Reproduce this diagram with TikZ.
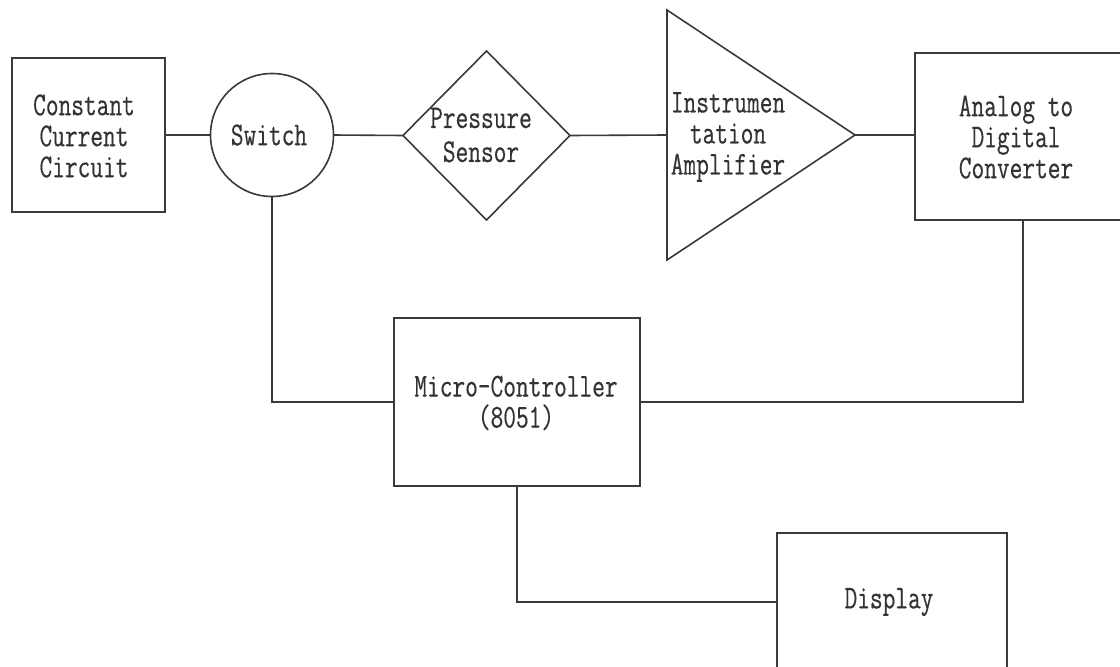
\documentclass[tikz,border=0pt]{standalone}
\usepackage{fontspec}
\newfontfamily\dgfont[FakeStretch=0.74,FakeBold=0.4]{Latin Modern Mono}
\usetikzlibrary{shapes.geometric,calc}
\definecolor{linec}{HTML}{3A3A3A}
\definecolor{textc}{HTML}{333333}
\begin{document}
\begin{tikzpicture}[x=0.75pt,y=-0.75pt,
  box/.style={draw=linec, line width=1.2pt, rectangle, inner sep=0pt, outer sep=0pt},
  lbl/.style={font=\dgfont\fontsize{25}{23.25}\selectfont, text=textc, align=center, inner sep=0pt},
  wire/.style={draw=linec, line width=1.2pt}]
\useasboundingbox (0,0) rectangle (1120,667);
\clip (0,0) rectangle (1120,667);
\fill[white] (0,0) rectangle (1120,667);

% Constant current circuit
\node[box, minimum width={153*0.75pt}, minimum height={154*0.75pt}] (ccc) at (88.5,135) {};
\node[lbl] (ccct) at (84,136) {Constant\\Current\\Circuit};

% Switch
\node[draw=linec, line width=1.2pt, circle, minimum size={123*0.75pt}, inner sep=0pt, outer sep=0pt] (sw) at (272,135) {};
\node[lbl] (swt) at (269,135) {Switch};

% Pressure sensor
\node[draw=linec, line width=1.2pt, diamond, aspect=1, minimum width={167*0.75pt}, minimum height={169*0.75pt}, inner sep=0pt, outer sep=0pt] (ps) at (486.5,135.5) {};
\node[lbl, font=\dgfont\fontsize{25}{25.5}\selectfont] (pst) at (481,135) {Pressure\\Sensor};

% Instrumentation amplifier
\coordinate (ampt) at (667,10);
\coordinate (ampb) at (667,260);
\coordinate (ampin) at (667,135);
\coordinate (ampout) at (855,135);
\draw[wire, line join=miter] (ampt) -- (ampout) -- (ampb) -- cycle;
\node[lbl] (ampl) at (728,137) {Instrumen\\tation\\Amplifier};

% ADC
\node[box, minimum width={207*0.75pt}, minimum height={167*0.75pt}] (adc) at (1018.5,136.5) {};
\node[lbl] (adct) at (1016,137) {Analog to\\Digital\\Converter};

% Micro-controller
\node[box, minimum width={246*0.75pt}, minimum height={168*0.75pt}] (mc) at (517,402) {};
\node[lbl] (mct) at (516,403) {Micro-Controller\\(8051)};

% Display
\node[box, minimum width={230*0.75pt}, minimum height={138*0.75pt}] (disp) at (892,602) {};
\node[lbl] (dispt) at (889,602) {Display};

% connectors
\draw[wire] (ccc.east) -- (sw.west);
\draw[wire] (sw.east) -- (ps.west);
\draw[wire] (ps.east) -- (ampin);
\draw[wire] (ampout) -- (ampout -| adc.west);
\draw[wire] (sw.south) |- (mc.west);
\coordinate (adcb) at (1023,220);
\draw[wire] (adcb) |- (mc.east);
\draw[wire] (mc.south) |- (disp.west);
\end{tikzpicture}
\end{document}
